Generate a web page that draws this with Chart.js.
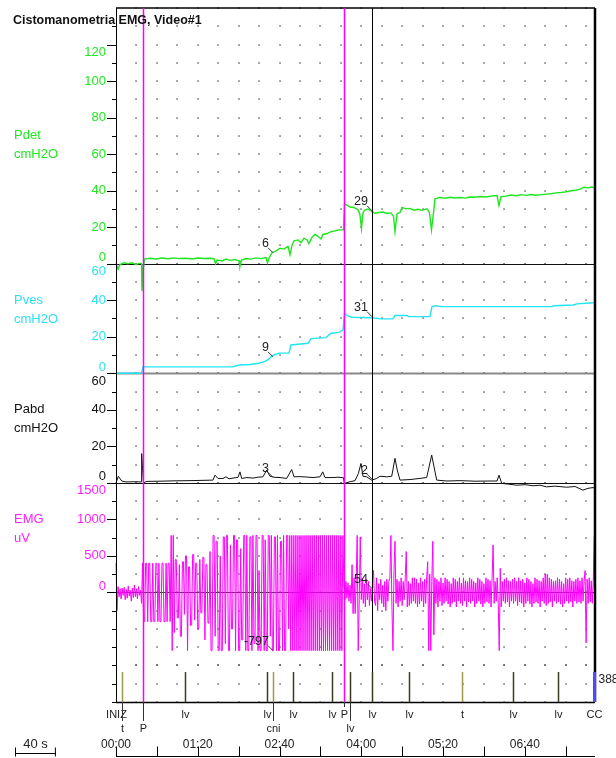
<!DOCTYPE html>
<html>
<head>
<meta charset="utf-8">
<script src="https://cdn.jsdelivr.net/npm/chart.js@4.4.1/dist/chart.umd.min.js"></script>
<style>
  body { margin: 0; background: #fff; }
</style>
</head>
<body>
<canvas id="chart" width="616" height="758"></canvas>
<script>
// ---- values (time in seconds) ----
const pdetT = [0,2,3.9,7.8,11.7,15.7,19.6,23.5,25,25.4,26.9,27.9,33.3,39.1,45,50.9,56.8,62.6,68.5,74.4,80.2,86.1,92,95.9,97.4,98.8,103.7,107.6,111.5,116.4,120.4,121.3,122.8,127.2,132.1,137,141.9,146.8,148.2,149.7,152.6,156.6,160.5,164.4,168.3,170.3,172.2,174.2,178.1,181,184,186.9,188.8,191.8,194.7,197.7,200.6,202.5,206.5,210.4,214.3,218.2,222.6,223.6,226,229,232.9,236.8,238.7,240.2,241.7,243.6,246.6,250.5,253.4,257.3,261.2,265.2,269.1,271.5,273,275,277.9,279.8,283.8,287.7,291.6,295.5,299.4,304.3,306.7,308.7,310.7,312.1,317,321.9,326.8,331.7,336.6,341.5,346.4,351.3,356.2,362,367.9,372.8,374.8,376.7,381.6,386.5,391.4,396.3,401.2,406.1,411,415.9,420.7,425.6,430.5,435.4,440.3,445.2,450.1,454,457.9,461.8,465.8,468.7];
const pdetV = [0.5,-3,-0.5,0.5,0,0.5,-0.5,0.3,0,-15,-2,2.5,3,2.6,3.1,2.7,3.2,2.8,3,2.6,3.1,2.8,3,2.7,0,2,1.5,2.5,1.8,2.3,1.5,-1.5,2,2.8,2.5,3.2,2.8,3.3,0.5,3,6,7,8.5,8,9.5,5,10,12.5,13,11.5,14,13,11,14.5,16,15,13.5,16,16.5,17.5,18,18.5,18.6,33,32,31,30.8,29.5,27,19.3,28,29.5,30,28.5,27.6,28,28.3,27.5,27.8,26,17.5,27.3,28,30.8,30,30.3,29.3,29.8,29.2,30,28,18.5,28,35.5,36.3,35.8,36.4,36,36.2,35.9,36.5,36.4,36.8,36.5,37.1,37.3,31.8,36.7,37,37.6,37.2,37.8,37.4,37.9,37.5,37.8,38.1,38.3,38.8,39,39.3,39.9,40.2,40.8,41.8,41.5,42,41.5];

const pvesT = [0,25,26.4,114.5,120.4,131.1,139.9,145.8,148.7,151.7,154.6,159.5,169.3,171.2,178.1,187.9,190.8,205.5,210.4,218.2,222.1,223.6,226,231.1,250.5,259.3,271,273,284.7,286.2,307.2,309.2,312.1,319,426.6,428.1,447.2,451.1,463.8,468.7];
const pvesV = [0,0,3.5,3.6,4.5,4.8,5.5,6.5,7.5,9,10,11,11,15.5,15.9,16.4,19,19.5,21.9,22.4,23.7,32.7,31.5,30.7,30.4,29.8,29.8,31.6,31.6,31,31,36.5,37,36.5,36.5,37,37.4,38,38.5,38.7];

const pabdT = [0,2.3,5.6,9.8,17.6,24.5,25.1,26.9,30.3,43.1,57.7,72.4,87.1,94.9,96.9,99.8,104.7,107.6,110.6,114.5,119.4,121.3,123,128.2,134.1,139,143.8,147.5,150.7,155.6,160.5,167,171.9,174.2,180,185.9,192.8,199.6,202.3,204.5,212.3,217.2,222.6,223.4,229,233.9,237.1,239.7,241.7,245.3,250.2,255.1,258.3,264.9,269.8,273,275.2,277.9,287.7,295.5,304,308.9,311.2,313.8,323.9,336.6,351.3,366,372.8,374.8,377.4,385.5,392.1,400.2,408,414.9,421.4,429.5,441,449.1,456.9,461.8,466.8,468.7];
const pabdV = [0,3.6,1,0.5,0.6,0.5,16,0,0.8,0.9,1.1,1.2,1.4,1.5,4.2,2.4,2.4,3.3,2.2,2.6,3,6,2.4,2.9,2.6,3.1,3.3,7,3.6,3,2.9,2.4,7.3,3.3,3.4,3.2,2.9,3.3,6,2.9,2.9,3.1,2.8,-0.3,0.6,1.2,5,10.6,3.6,3.3,1.5,2.4,3.6,3.3,3.6,13.4,7,1.5,1.8,2.3,2.9,15.2,8.8,1.5,1,1.2,0.9,1,1,4.2,-0.3,-0.8,-1.3,-1,-1.6,-1.3,-2.2,-1.8,-2.4,-2,-4,-3,-2.6,-3];

// EMG, one sample per second from t = 0
const emgStep = 1;
const emgV = [
  400,-250,80,-60,50,-90,60,-40,70,-100,40,-80,90,-50,30,-120,60,-70,100,-60,50,-90,80,-40,30,-150,
  400,-400,-400,400,400,-400,400,400,-400,-400,400,-400,-400,400,400,-400,400,-400,-400,400,400,-400,-400,400,-400,400,400,-400,
  780,-797,780,-550,
  450,450,-350,-350,380,-600,-600,420,420,-300,500,500,-797,350,350,-450,-450,520,520,-380,400,400,-500,-500,450,-280,-280,480,480,-650,380,380,-420,-420,560,
  -797,-797,780,780,-600,700,700,-797,-797,500,-797,-797,760,760,-700,780,780,-797,-797,650,-500,-500,780,780,-797,720,720,-797,-797,600,-650,-650,780,780,-797,
  780,-797,-797,760,760,-797,780,-700,-700,780,780,-797,300,-797,-797,780,780,-797,720,-797,-797,780,780,-600,780,-797,-797,760,760,-797,780,-797,-797,700,700,-797,780,-797,-797,780,780,-500,
  780,-797,780,-797,780,-797,780,-797,780,-797,780,-797,780,-797,780,-797,780,-797,780,-797,780,-797,780,-797,780,-797,
  780,-797,780,-797,780,-797,780,-797,780,-797,780,-797,780,-797,780,-797,780,-797,780,-797,780,-797,780,-797,780,-797,780,
  120,-100,150,-80,130,-120,100,-150,380,-290,200,-290,150,780,-797,-100,760,-100,200,-150,120,-200,180,-100,150,-180,54,-120,
  150,300,-120,-180,200,-250,120,-100,180,-150,
  100,-200,150,-250,180,-120,150,200,780,-200,
  -797,300,700,-150,180,-200,150,-120,200,-180,
  150,-100,200,560,-200,150,-180,120,-150,200,
  -120,200,-150,180,-200,130,-160,200,-120,150,
  -200,180,-150,200,420,-797,250,-797,150,700,
  -580,200,-150,180,-200,150,-120,200,-180,130,
  -150,200,-120,180,-160,150,-200,120,-150,200,
  -130,180,-200,150,-120,200,-150,130,-180,200,
  -120,160,-200,150,-130,200,-150,180,-120,150,
  -200,130,-150,200,-120,180,-160,150,-200,120,
  -150,200,-130,180,-150,160,-200,200,650,-150,
  150,-120,200,-150,-797,330,-200,150,-120,180,
  -150,200,-130,160,-200,150,-120,180,-150,200,
  -120,150,-180,200,-130,160,-150,180,-200,130,
  -150,200,-120,180,-160,150,-200,120,-150,200,
  -130,180,-150,160,-200,150,-120,200,-150,250,
  -180,250,-150,200,-130,180,-200,150,-120,160,
  -150,200,-130,180,-160,150,-200,120,-150,200,
  -120,180,-150,200,-130,160,-200,150,-120,180,
  -150,200,-130,160,-150,200,-120,150,300,-690,
  180,-150,200,-130,160,-150,150,780
];

// event marks
const evTimes  = [0, 5.9, 26.4, 67.5, 147.7, 153.6, 173.2, 211.4, 223.1, 229, 250.5, 286.7, 338.6, 388.5, 432.5, 467.7];
const evLabels = ['INIZ','t','P','lv','lv','cni','lv','lv','P','lv','lv','lv','t','lv','lv','CC'];
const evRows   = [1, 2, 2, 1, 1, 2, 1, 1, 1, 2, 1, 1, 1, 1, 1, 1];
const ccValue = '388';

// cursor readouts
const cursorTimes = [153.6, 250.5];
const cursorLine = 250.5;
const pdetRead = [6, 29];
const pvesRead = [9, 31];
const pabdRead = [3, 2];
const emgRead = [-797, 54];

// axis ticks
const pdetTicks = [0, 20, 40, 60, 80, 100, 120];
const pvesTicks = [0, 20, 40, 60];
const pabdTicks = [0, 20, 40, 60];
const emgTicks = [0, 500, 1000, 1500];
const timeTicks = [0, 80, 160, 240, 320, 400];
const timeTickLabels = ['00:00', '01:20', '02:40', '04:00', '05:20', '06:40'];
const timeMinorStep = 40;
const scaleBarSeconds = 40;

// ---- chart ----
const FONT = "'Liberation Sans', Arial, sans-serif";
const GREEN = '#1ee61e', CYAN = '#22e4f2', MAGENTA = '#ff00ff';

const panels = [
  { id: 'yPdet', min: 0, max: 140, minor: 10, ticks: pdetTicks, name: ['Pdet', 'cmH2O'], nameAt: 70, color: '#22e822', read: pdetRead },
  { id: 'yPves', min: 0, max: 60, minor: 10, ticks: pvesTicks, name: ['Pves', 'cmH2O'], nameAt: 40, color: '#2ee0f5', read: pvesRead },
  { id: 'yPabd', min: 0, max: 60, minor: 10, ticks: pabdTicks, name: ['Pabd', 'cmH2O'], nameAt: 40, color: '#111', read: pabdRead },
  { id: 'yEmg', min: -1000, max: 1500, minor: 250, ticks: emgTicks, name: ['EMG', 'uV'], nameAt: 1000, color: '#ff22ff', read: emgRead },
  { id: 'yEv', min: 0, max: 2, minor: 1, ticks: [], name: null }
];

function pairs(ts, vs) {
  return ts.map((t, i) => ({ x: t, y: vs[i] }));
}

function line(ctx, x1, y1, x2, y2) {
  ctx.beginPath();
  ctx.moveTo(x1, y1);
  ctx.lineTo(x2, y2);
  ctx.stroke();
}

const tracePlugin = {
  id: 'tracePlugin',
  beforeDatasetsDraw(chart) {
    const ctx = chart.ctx, xs = chart.scales.x, area = chart.chartArea;
    ctx.save();
    // dotted grid
    ctx.fillStyle = '#333';
    panels.forEach(p => {
      const s = chart.scales[p.id];
      for (let v = p.min; v <= p.max + 1e-6; v += p.minor) {
        const py = Math.round(s.getPixelForValue(v));
        for (let t = 20; t < xs.max; t += 20) {
          ctx.fillRect(Math.round(xs.getPixelForValue(t)) - 0.6, py - 0.6, 1.3, 1.3);
        }
      }
    });
    // zero lines
    const zeros = [['yPdet', '#111', 1], ['yPves', '#8a8a8a', 2], ['yPabd', '#111', 1], ['yEmg', '#333', 1], ['yEv', '#000', 1.5]];
    zeros.forEach(z => {
      const py = Math.round(chart.scales[z[0]].getPixelForValue(0)) + 0.5;
      ctx.strokeStyle = z[1];
      ctx.lineWidth = z[2];
      line(ctx, area.left, py, area.right, py);
    });
    ctx.restore();
  },
  afterDatasetsDraw(chart) {
    const ctx = chart.ctx, xs = chart.scales.x, area = chart.chartArea;
    const ev = chart.scales.yEv;
    const base = ev.getPixelForValue(0);
    ctx.save();

    // frame
    ctx.strokeStyle = '#000';
    ctx.lineWidth = 1.5;
    line(ctx, area.left, area.top, area.right, area.top);
    ctx.lineWidth = 1;
    line(ctx, area.left + 0.5, area.top, area.left + 0.5, base);
    ctx.lineWidth = 2.5;
    line(ctx, area.right, area.top, area.right, base);

    // full height marks: P events and cursor
    evTimes.forEach((t, i) => {
      if (evLabels[i] !== 'P') return;
      const px = Math.round(xs.getPixelForValue(t)) + 0.5;
      ctx.strokeStyle = MAGENTA;
      ctx.lineWidth = 1.5;
      line(ctx, px, area.top, px, base);
    });
    ctx.strokeStyle = '#000';
    ctx.lineWidth = 1;
    const cx = Math.round(xs.getPixelForValue(cursorLine)) + 0.5;
    line(ctx, cx, area.top, cx, base);

    // y ticks and labels
    ctx.textBaseline = 'middle';
    panels.forEach(p => {
      const s = chart.scales[p.id];
      ctx.strokeStyle = '#000';
      ctx.lineWidth = 1;
      for (let v = p.min; v <= p.max + 1e-6; v += p.minor) {
        if (v === p.max && p.id === 'yPdet') continue;
        const py = Math.round(s.getPixelForValue(v)) + 0.5;
        const len = p.ticks.includes(v) ? 9 : 4;
        line(ctx, area.left - len, py, area.left, py);
      }
      if (!p.name) return;
      ctx.fillStyle = p.color;
      ctx.font = '13px ' + FONT;
      ctx.textAlign = 'right';
      const top = Math.max.apply(null, p.ticks), bottom = Math.min.apply(null, p.ticks);
      p.ticks.forEach(v => {
        let py = s.getPixelForValue(v);
        if (v === top) py += 8;
        if (v === bottom) py -= 6;
        ctx.fillText(String(v), area.left - 10, py);
      });
      ctx.textAlign = 'left';
      const ny = s.getPixelForValue(p.nameAt);
      ctx.fillText(p.name[0], 14, ny);
      ctx.fillText(p.name[1], 14, ny + 19);
    });

    // event marks
    const evTop = ev.getPixelForValue(1.64);
    ctx.font = '11px ' + FONT;
    ctx.textAlign = 'center';
    evTimes.forEach((t, i) => {
      const lab = evLabels[i];
      const px = Math.round(xs.getPixelForValue(t)) + 0.5;
      if (lab === 'lv' || lab === 't' || lab === 'cni' || lab === 'CC') {
        ctx.strokeStyle = lab === 'lv' ? '#3a3a1c' : (lab === 'CC' ? '#4a4aff' : '#9a9a48');
        ctx.lineWidth = lab === 'CC' ? 3 : 1.5;
        line(ctx, px, evTop, px, base);
      }
      ctx.strokeStyle = '#333';
      ctx.lineWidth = 1;
      if (evRows[i] === 2) line(ctx, px, base, px, base + 19);
      else if (lab === 'P') line(ctx, px, base, px, base + 5);
      ctx.fillStyle = '#222';
      ctx.fillText(lab, px, base + (evRows[i] === 2 ? 27 : 13));
      if (lab === 'CC') {
        ctx.textAlign = 'left';
        ctx.font = '12px ' + FONT;
        ctx.fillText(ccValue, px + 4, ev.getPixelForValue(1.2));
        ctx.font = '11px ' + FONT;
        ctx.textAlign = 'center';
      }
    });

    // time axis
    const ty = chart.height - 1.5;
    ctx.strokeStyle = '#000';
    ctx.lineWidth = 1;
    line(ctx, area.left, ty, area.right, ty);
    for (let t = 0; t < xs.max; t += timeMinorStep) {
      const px = Math.round(xs.getPixelForValue(t)) + 0.5;
      line(ctx, px, ty - 10, px, ty);
    }
    ctx.fillStyle = '#222';
    ctx.font = '12px ' + FONT;
    timeTicks.forEach((t, i) => {
      ctx.fillText(timeTickLabels[i], xs.getPixelForValue(t), ty - 12);
    });
    // scale bar
    const barW = xs.getPixelForValue(scaleBarSeconds) - xs.getPixelForValue(0);
    const bx = 15, by = ty - 3;
    line(ctx, bx, by, bx + barW, by);
    line(ctx, bx + 0.5, by - 6, bx + 0.5, by + 3);
    line(ctx, bx + barW - 0.5, by - 6, bx + barW - 0.5, by + 3);
    ctx.font = '13px ' + FONT;
    ctx.fillText(scaleBarSeconds + ' s', bx + barW / 2, ty - 12);

    // cursor readouts
    ctx.font = '12.5px ' + FONT;
    ctx.textAlign = 'right';
    ctx.fillStyle = '#222';
    ctx.strokeStyle = '#333';
    ctx.lineWidth = 1;
    cursorTimes.forEach((t, i) => {
      const px = xs.getPixelForValue(t);
      panels.forEach(p => {
        if (!p.read) return;
        const py = chart.scales[p.id].getPixelForValue(p.read[i]);
        line(ctx, px - 5, py - 5, px, py);
        ctx.fillText(String(p.read[i]), px - 4, py - 9);
      });
    });

    // title
    ctx.textAlign = 'left';
    ctx.fillStyle = '#111';
    ctx.font = 'bold 12.5px ' + FONT;
    ctx.fillText('Cistomanometria EMG, Video#1', 13, 21);
    ctx.restore();
  }
};

const emgData = emgV.map((v, i) => ({ x: i * emgStep, y: v }));

new Chart(document.getElementById('chart'), {
  type: 'line',
  data: {
    datasets: [
      { label: 'EMG', data: emgData, yAxisID: 'yEmg', borderColor: MAGENTA, borderWidth: 1 },
      { label: 'Pabd', data: pairs(pabdT, pabdV), yAxisID: 'yPabd', borderColor: '#111', borderWidth: 1 },
      { label: 'Pves', data: pairs(pvesT, pvesV), yAxisID: 'yPves', borderColor: CYAN, borderWidth: 1.4 },
      { label: 'Pdet', data: pairs(pdetT, pdetV), yAxisID: 'yPdet', borderColor: GREEN, borderWidth: 1.4 }
    ]
  },
  options: {
    responsive: false,
    animation: false,
    events: [],
    layout: { padding: { left: 116, right: 21, top: 8, bottom: 56 } },
    elements: { point: { radius: 0 }, line: { tension: 0 } },
    datasets: { line: { clip: false } },
    plugins: { legend: { display: false }, tooltip: { enabled: false } },
    scales: {
      x: { type: 'linear', min: 0, max: 468.7, display: false },
      yEv: { type: 'linear', min: 0, max: 2, display: false, position: 'left', stack: 'panels', stackWeight: 2 },
      yEmg: { type: 'linear', min: -1000, max: 1500, display: false, position: 'left', stack: 'panels', stackWeight: 10 },
      yPabd: { type: 'linear', min: 0, max: 60, display: false, position: 'left', stack: 'panels', stackWeight: 6 },
      yPves: { type: 'linear', min: 0, max: 60, display: false, position: 'left', stack: 'panels', stackWeight: 6 },
      yPdet: { type: 'linear', min: 0, max: 140, display: false, position: 'left', stack: 'panels', stackWeight: 14 }
    }
  },
  plugins: [tracePlugin]
});
</script>
</body>
</html>
